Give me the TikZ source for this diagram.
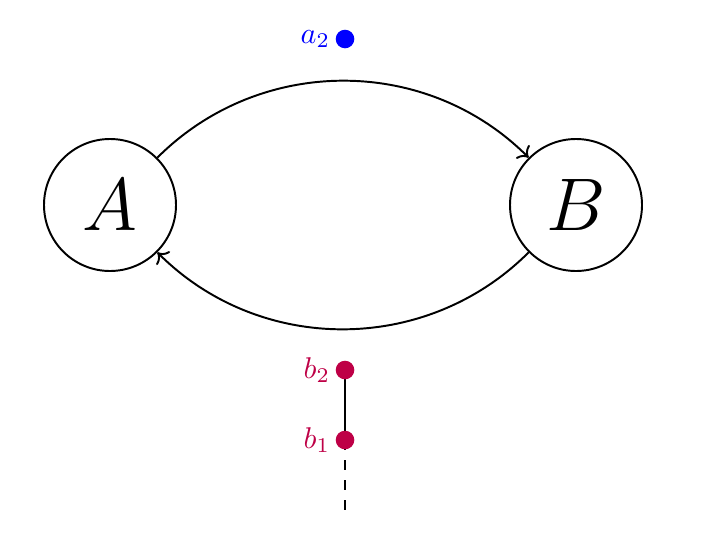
\documentclass[tikz,border=0pt]{standalone}
\usetikzlibrary{arrows.meta,backgrounds}
\definecolor{bcol}{RGB}{190,0,70}
\begin{document}
\begin{tikzpicture}[x=0.33333pt,y=-0.33333pt,
  state/.style={circle,draw,line width=0.65pt,minimum size=44pt,inner sep=0pt,font=\fontsize{24}{28}\selectfont},
  arc/.style={line width=0.65pt,->},
  dot/.style={circle,fill,inner sep=0pt,minimum size=6.2pt},
  dashline/.style={dash pattern=on 3.333pt off 3.333pt}]
\useasboundingbox (0,0) rectangle (702,542);
\node[state] (A) at (110,205) {$A$};
\node[state] (B) at (576,205) {$B$};
\draw[arc] (A.45) to[out=45,in=135] (B.135);
\draw[arc] (B.-135) to[out=-135,in=-45] (A.-45);
\node[dot,blue,label={[blue,inner sep=1.5pt]left:$a_2$}] (a2) at (345,39) {};
\node[dot,bcol,label={[bcol,inner sep=1.5pt]left:$b_2$}] (b2) at (345,370) {};
\node[dot,bcol,label={[bcol,inner sep=1.5pt]left:$b_1$}] (b1) at (345,440) {};
\coordinate (bend) at (345,510);
\begin{pgfonlayer}{background}
\draw (b2.center) -- (b1.center);
\draw[dashline] (b1.center) -- (bend);
\end{pgfonlayer}
\end{tikzpicture}
\end{document}
